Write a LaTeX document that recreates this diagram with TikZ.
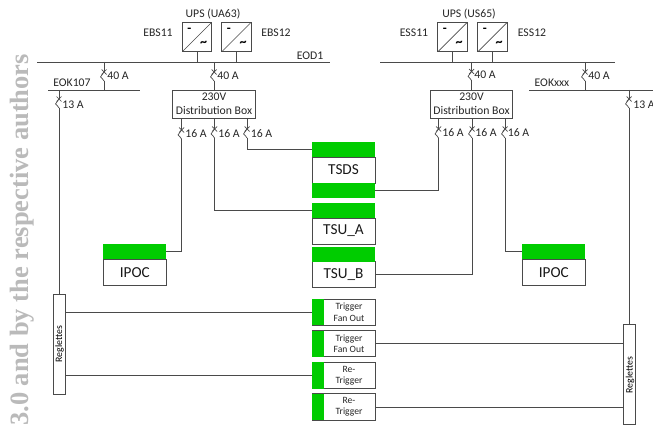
\documentclass[tikz,border=0pt]{standalone}
\usepackage{fontspec}
\setmainfont{Carlito}
\newfontfamily\markfont{Liberation Serif}
\definecolor{boxgreen}{HTML}{00CC00}
\definecolor{wirecol}{HTML}{4A4A4A}
\tikzset{
  wire/.style={draw=wirecol,line width=0.8pt},
  lbl/.style={inner sep=0pt,text=black!85,font=\fontsize{10}{11}\selectfont},
  smalllbl/.style={lbl,align=center,font=\fontsize{8.2}{9.6}\selectfont},
  bigbox/.style={draw=wirecol,line width=0.8pt,fill=white,inner sep=0pt,minimum width=1.89cm,
    text=black!90,font=\fontsize{13}{14}\selectfont},
  distbox/.style={draw=wirecol,line width=0.8pt,fill=white,inner sep=0pt,minimum width=2.48cm,
    minimum height=0.84cm,align=center,text=black!85,font=\fontsize{10}{11.6}\selectfont},
  greenbar/.style={fill=boxgreen,inner sep=0pt,minimum width=1.89cm,minimum height=0.46cm},
  greentab/.style={fill=boxgreen,inner sep=0pt,minimum width=0.35cm,minimum height=0.79cm},
  trigbox/.style={draw=wirecol,line width=0.8pt,fill=white,inner sep=0pt,minimum width=1.89cm,
    minimum height=0.79cm},
  reglette/.style={draw=wirecol,line width=0.8pt,fill=white,inner sep=0pt,minimum width=0.35cm},
  regtext/.style={inner sep=0pt,rotate=90,font=\fontsize{8.4}{9}\selectfont},
  upsbox/.style={draw=wirecol,line width=0.8pt,inner sep=0pt,minimum size=0.88cm,
    path picture={
      \draw[wirecol,line width=0.6pt] (path picture bounding box.south west) -- (path picture bounding box.north east);
      \node[inner sep=0pt,font=\bfseries\fontsize{11}{11}\selectfont] at ([xshift=-0.23cm,yshift=0.2cm]path picture bounding box.center) {-};
      \node[inner sep=0pt,font=\bfseries\fontsize{12}{12}\selectfont] at ([xshift=0.2cm,yshift=-0.22cm]path picture bounding box.center) {\char"007E};
    }},
  breaker/.pic={
    \coordinate (-in) at (0,0);
    \coordinate (-out) at (0,-9);
    \draw[wire,line width=0.6pt] (-2.5,2.5) -- (2.5,-2.5) (-2.5,-2.5) -- (2.5,2.5);
    \draw[wire,line width=0.6pt] (0,0) -- (-3.5,-5) .. controls (-3,-6.5) and (0,-7) .. (0,-9);
  }
}
\begin{document}
\begin{tikzpicture}[x=0.03cm,y=0.03cm]
\useasboundingbox (0,0) rectangle (653,-426);
\fill[white] (0,0) rectangle (653,-426);
\node[inner sep=0pt,rotate=90,anchor=base west,text=black!27,font=\markfont\bfseries\fontsize{22.6}{24}\selectfont] (markline) at (28,-426) {3.0 and by the respective authors};

% busbars
\coordinate (eodw) at (37,-62); \coordinate (eode) at (330,-62);
\coordinate (essw) at (380,-62); \coordinate (esse) at (615,-62);
\coordinate (eokaw) at (48,-90); \coordinate (eokae) at (140,-90);
\coordinate (eokbw) at (529,-90); \coordinate (eokbe) at (653,-90);
\draw[wire] (eodw) -- (eode);
\draw[wire] (essw) -- (esse);
\draw[wire] (eokaw) -- (eokae);
\draw[wire] (eokbw) -- (eokbe);

% UPS
\node[upsbox] (ebsa) at (197,-37) {};
\node[upsbox] (ebsb) at (236.5,-37) {};
\node[upsbox] (essa) at (452.5,-37) {};
\node[upsbox] (essb) at (492.5,-37) {};
\draw[wire] (ebsa.south) -- (ebsa.south |- eodw);
\draw[wire] (ebsb.south) -- (ebsb.south |- eodw);
\draw[wire] (essa.south) -- (essa.south |- essw);
\draw[wire] (essb.south) -- (essb.south |- essw);
\node[lbl] (upsa) at (213,-14) {UPS (UA63)};
\node[lbl] (upsb) at (469,-14) {UPS (US65)};
\node[lbl] (ebsal) at (158,-33) {EBS11};
\node[lbl] (ebsbl) at (276,-33) {EBS12};
\node[lbl] (essal) at (414,-33) {ESS11};
\node[lbl] (essbl) at (532,-33) {ESS12};
\node[lbl] (eodl) at (310,-56) {EOD1};
\node[lbl] (eokal) at (72,-83) {EOK107};
\node[lbl] (eokbl) at (552,-83) {EOKxxx};

% distribution boxes
\node[distbox] (dista) at (214,-104) {230V\\Distribution Box};
\node[distbox] (distb) at (471.5,-104) {230V\\Distribution Box};

% IPOC and TSDS
\node[bigbox,minimum height=0.78cm] (ipoca) at (134.75,-272.5) {IPOC};
\node[greenbar] (ipocag) at (134.75,-251.7) {};
\node[bigbox,minimum height=0.78cm] (ipocb) at (553.75,-272.5) {IPOC};
\node[greenbar] (ipocbg) at (553.75,-251.7) {};
\node[bigbox,minimum height=0.78cm] (tsds) at (343.5,-170) {TSDS};
\node[greenbar] (tsdst) at (343.5,-149.2) {};
\node[greenbar] (tsdsb) at (343.5,-190.5) {};
\node[bigbox,minimum height=0.78cm] (tsua) at (343.5,-231) {TSU\_A};
\node[greenbar] (tsuag) at (343.5,-210.5) {};
\node[bigbox,minimum height=0.78cm] (tsub) at (343.5,-274.5) {TSU\_B};
\node[greenbar] (tsubg) at (343.5,-254.5) {};

% trigger boxes
\node[trigbox] (tfa) at (343.5,-312.2) {};
\node[trigbox] (tfb) at (343.5,-343.7) {};
\node[trigbox] (rta) at (343.5,-375.5) {};
\node[trigbox] (rtb) at (343.5,-407) {};
\node[greentab] (tfag) at (317.8,-312.2) {};
\node[greentab] (tfbg) at (317.8,-343.7) {};
\node[greentab] (rtag) at (317.8,-375.5) {};
\node[greentab] (rtbg) at (317.8,-407) {};
\node[smalllbl] (tfat) at (349,-312.2) {Trigger\\Fan Out};
\node[smalllbl] (tfbt) at (349,-343.7) {Trigger\\Fan Out};
\node[smalllbl] (rtat) at (349,-375.5) {Re-\\Trigger};
\node[smalllbl] (rtbt) at (349,-407) {Re-\\Trigger};

% reglettes
\node[reglette,minimum height=3cm] (rega) at (59.5,-344) {};
\node[reglette,minimum height=3cm] (regb) at (629.2,-374) {};
\node[regtext] (regat) at (59.5,-344) {Reglettes};
\node[regtext] (regbt) at (630,-375) {Reglettes};

% breakers
\pic (bma) at (104,-72) {breaker};
\pic (bmb) at (214,-72) {breaker};
\pic (bmc) at (471.5,-71.5) {breaker};
\pic (bmd) at (585,-72) {breaker};
\pic (bka) at (59,-99) {breaker};
\pic (bkb) at (629,-99) {breaker};
\pic (bda) at (181.5,-130) {breaker};
\pic (bdb) at (214.5,-129) {breaker};
\pic (bdc) at (247,-129) {breaker};
\pic (bea) at (438.5,-129) {breaker};
\pic (beb) at (472,-129) {breaker};
\pic (bec) at (505,-129) {breaker};
\node[lbl] (bmal) at (118,-76) {40 A};
\node[lbl] (bmbl) at (228,-76) {40 A};
\node[lbl] (bmcl) at (485,-75) {40 A};
\node[lbl] (bmdl) at (599,-76) {40 A};
\node[lbl] (bkal) at (73,-105) {13 A};
\node[lbl] (bkbl) at (644,-105) {13 A};
\node[lbl] (bdal) at (196,-133.5) {16 A};
\node[lbl] (bdbl) at (229,-133.5) {16 A};
\node[lbl] (bdcl) at (261.5,-133.5) {16 A};
\node[lbl] (beal) at (453,-133) {16 A};
\node[lbl] (bebl) at (486,-133) {16 A};
\node[lbl] (becl) at (518.5,-133) {16 A};

% wiring
\draw[wire] (bma-in |- eodw) -- (bma-in);
\draw[wire] (bma-out) -- (bma-out |- eokaw);
\draw[wire] (bmb-in |- eodw) -- (bmb-in);
\draw[wire] (bmb-out) -- (dista.north -| bmb-out);
\draw[wire] (bmc-in |- essw) -- (bmc-in);
\draw[wire] (bmc-out) -- (distb.north -| bmc-out);
\draw[wire] (bmd-in |- essw) -- (bmd-in);
\draw[wire] (bmd-out) -- (bmd-out |- eokbw);
\draw[wire] (bka-in |- eokaw) -- (bka-in);
\draw[wire] (bka-out) -- (rega.north -| bka-out);
\draw[wire] (bkb-in |- eokbw) -- (bkb-in);
\draw[wire] (bkb-out) -- (regb.north -| bkb-out);
\draw[wire] (bda-in |- dista.south) -- (bda-in);
\draw[wire] (bdb-in |- dista.south) -- (bdb-in);
\draw[wire] (bdc-in |- dista.south) -- (bdc-in);
\draw[wire] (bea-in |- distb.south) -- (bea-in);
\draw[wire] (beb-in |- distb.south) -- (beb-in);
\draw[wire] (bec-in |- distb.south) -- (bec-in);
\draw[wire] (bda-out) |- (ipocag.east);
\draw[wire] (bdb-out) |- (tsuag.west);
\draw[wire] (bdc-out) |- (tsdst.west);
\draw[wire] (bea-out) |- (tsdsb.east);
\draw[wire] (beb-out) |- (tsub.east);
\draw[wire] (bec-out) |- (ipocbg.west);
\draw[wire] (rega.east |- tfag.west) -- (tfag.west);
\draw[wire] (rega.east |- rtag.west) -- (rtag.west);
\draw[wire] (tfb.east) -- (regb.west |- tfb.east);
\draw[wire] (rtb.east) -- (regb.west |- rtb.east);
\end{tikzpicture}
\end{document}
